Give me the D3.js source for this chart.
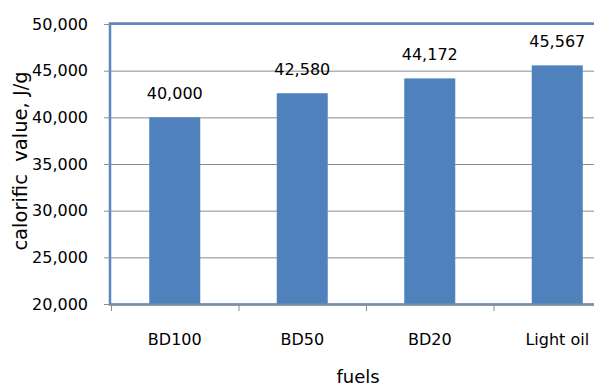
<!DOCTYPE html>
<html>
<head>
<meta charset="utf-8">
<script src="https://cdn.jsdelivr.net/npm/d3@7/dist/d3.min.js"></script>
<style>
  html, body { margin: 0; padding: 0; background: #fff; }
  svg { display: block; font-family: "DejaVu Sans", "Noto Sans", sans-serif; }
</style>
</head>
<body>
<svg id="chart" width="594" height="389"></svg>
<script>
// Calorific value of each fuel (J/g)
const fuels = ["BD100", "BD50", "BD20", "Light oil"];
const calorific = [40000, 42580, 44172, 45567];
const yTicks = [20000, 25000, 30000, 35000, 40000, 45000, 50000];

const svg = d3.select("#chart");
const plot = { left: 111, right: 621, top: 24, bottom: 304 };
const FONT = 16;

const x = d3.scaleBand().domain(fuels).range([plot.left, plot.right]).paddingInner(0.6).paddingOuter(0.3);
const xEdge = d3.scaleBand().domain(fuels).range([plot.left, plot.right]);
const y = d3.scaleLinear().domain([20000, 50000]).range([plot.bottom, plot.top]);
const fmt = d3.format(",");

// gridlines
svg.append("g").selectAll("line").data(yTicks.slice(1)).join("line")
  .attr("x1", plot.left).attr("x2", plot.right)
  .attr("y1", d => y(d) + 0.5).attr("y2", d => y(d) + 0.5)
  .attr("stroke", "#8c8c8c").attr("stroke-width", 1);

// bars
svg.append("g").selectAll("rect").data(fuels).join("rect")
  .attr("x", d => x(d))
  .attr("width", x.bandwidth())
  .attr("y", (d, i) => y(calorific[i]))
  .attr("height", (d, i) => y(20000) - y(calorific[i]))
  .attr("fill", "#4f81bd");

// plot-area border
svg.append("rect")
  .attr("x", plot.left - 1).attr("y", plot.top - 0.5)
  .attr("width", plot.right - plot.left + 2).attr("height", plot.bottom - plot.top + 1)
  .attr("fill", "none").attr("stroke", "#5a86bf").attr("stroke-width", 2.5);

// y axis
const yAxis = svg.append("g").attr("transform", `translate(${plot.left},0)`)
  .call(d3.axisLeft(y).tickValues(yTicks).tickFormat(fmt).tickSize(7).tickPadding(16));
yAxis.select(".domain").remove();
yAxis.selectAll(".tick line").attr("stroke", "#8c8c8c");
yAxis.selectAll(".tick text").attr("font-size", FONT).attr("fill", "#000")
  .attr("font-family", "'DejaVu Sans', sans-serif");

// x axis line and category ticks
svg.append("line")
  .attr("x1", plot.left).attr("x2", plot.right)
  .attr("y1", plot.bottom + 0.5).attr("y2", plot.bottom + 0.5)
  .attr("stroke", "#8c8c8c").attr("stroke-width", 1.5);
svg.append("g").selectAll("line").data(fuels).join("line")
  .attr("x1", d => xEdge(d) + 0.5).attr("x2", d => xEdge(d) + 0.5)
  .attr("y1", plot.bottom).attr("y2", plot.bottom + 7)
  .attr("stroke", "#8c8c8c");

svg.append("g").selectAll("text").data(fuels).join("text")
  .attr("x", d => xEdge(d) + xEdge.bandwidth() / 2)
  .attr("y", 345)
  .attr("text-anchor", "middle")
  .attr("font-size", FONT)
  .text(d => d);

// value labels
svg.append("g").selectAll("text").data(fuels).join("text")
  .attr("x", d => x(d) + x.bandwidth() / 2)
  .attr("y", (d, i) => y(calorific[i]) - 18)
  .attr("text-anchor", "middle")
  .attr("font-size", FONT)
  .text((d, i) => fmt(calorific[i]));

// axis titles
svg.append("text")
  .attr("transform", "translate(27,161) rotate(-90)")
  .attr("text-anchor", "middle")
  .attr("font-size", 19.5)
  .attr("xml:space", "preserve")
  .text("calorific  value, J/g");

svg.append("text")
  .attr("x", 358).attr("y", 383)
  .attr("text-anchor", "middle")
  .attr("font-size", 18)
  .text("fuels");
</script>
</body>
</html>
